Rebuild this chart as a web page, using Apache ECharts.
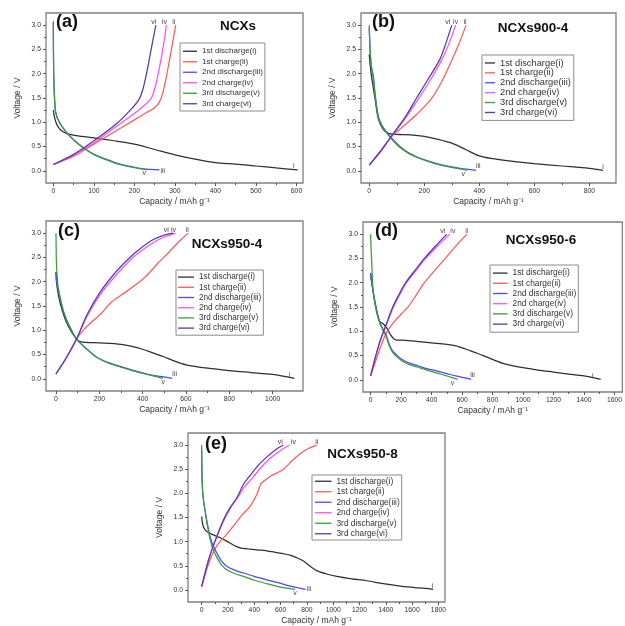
<!DOCTYPE html>
<html>
<head>
<meta charset="utf-8">
<script src="https://cdn.jsdelivr.net/npm/echarts@6/dist/echarts.min.js"></script>
<style>
  html, body { margin: 0; padding: 0; background: #fff; }
  #chart { width: 625px; height: 626px; }
</style>
</head>
<body>
<div id="chart"></div>
<script>
// ---- curve data: capacity (mAh/g) and voltage (V) per cycle, per sample ----
// index 1: 1st discharge, 2: 1st charge, 3: 2nd discharge, 4: 2nd charge, 5: 3rd discharge, 6: 3rd charge

// (a) NCXs
const aCap1 = [0, 3, 8, 15, 25, 40, 70, 100, 150, 200, 250, 300, 350, 400, 450, 500, 550, 603];
const aV1   = [1.25, 1.1, 0.97, 0.87, 0.8, 0.75, 0.71, 0.68, 0.62, 0.55, 0.44, 0.33, 0.24, 0.17, 0.14, 0.1, 0.06, 0.02];
const aCap2 = [0, 50, 100, 150, 200, 230, 250, 262, 270, 278, 286, 294, 302];
const aV2   = [0.13, 0.3, 0.55, 0.8, 1.05, 1.2, 1.3, 1.42, 1.6, 1.9, 2.25, 2.62, 3.0];
const aCap3 = [0, 1, 3, 6, 15, 30, 50, 75, 100, 130, 156, 185, 214, 240, 262];
const aV3   = [3.08, 2.0, 1.5, 1.2, 1.0, 0.82, 0.64, 0.47, 0.34, 0.24, 0.16, 0.1, 0.05, 0.03, 0.02];
const aCap4 = [0, 50, 100, 150, 200, 225, 242, 252, 260, 268, 274, 279];
const aV4   = [0.13, 0.32, 0.58, 0.88, 1.18, 1.35, 1.5, 1.75, 2.05, 2.4, 2.7, 3.0];
const aCap5 = [0, 1, 3, 6, 15, 30, 50, 75, 100, 130, 156, 185, 210, 232];
const aV5   = [3.0, 2.0, 1.5, 1.2, 1.0, 0.82, 0.64, 0.47, 0.34, 0.23, 0.15, 0.09, 0.05, 0.02];
const aCap6 = [0, 50, 100, 156, 190, 210, 220, 230, 238, 246, 253];
const aV6   = [0.13, 0.34, 0.62, 0.97, 1.25, 1.45, 1.65, 2.0, 2.35, 2.7, 3.0];

// (b) NCXs900-4
const bCap1 = [0, 3, 8, 15, 22, 33, 50, 70, 100, 150, 200, 250, 300, 350, 400, 450, 500, 600, 700, 800, 850];
const bV1   = [2.4, 2.2, 1.95, 1.7, 1.45, 1.07, 0.86, 0.77, 0.75, 0.74, 0.71, 0.65, 0.57, 0.44, 0.31, 0.25, 0.21, 0.15, 0.1, 0.05, 0.01];
const bCap2 = [0, 40, 80, 124, 170, 221, 260, 294, 325, 352];
const bV2   = [0.12, 0.38, 0.7, 0.92, 1.15, 1.45, 1.8, 2.2, 2.6, 3.0];
const bCap3 = [0, 3, 8, 15, 21, 33, 45, 63, 85, 112, 140, 172, 210, 245, 290, 330, 388];
const bV3   = [2.95, 2.5, 2.15, 1.95, 1.6, 1.12, 0.95, 0.8, 0.65, 0.5, 0.38, 0.29, 0.21, 0.15, 0.09, 0.05, 0.01];
const bCap4 = [0, 40, 85, 130, 175, 220, 265, 292, 314];
const bV4   = [0.12, 0.4, 0.74, 1.07, 1.45, 1.85, 2.3, 2.65, 3.0];
const bCap5 = [0, 3, 8, 15, 21, 33, 45, 63, 85, 112, 140, 172, 210, 245, 290, 330, 356];
const bV5   = [3.0, 2.5, 2.1, 1.9, 1.55, 1.1, 0.93, 0.78, 0.63, 0.48, 0.37, 0.28, 0.2, 0.14, 0.08, 0.04, 0.01];
const bCap6 = [0, 40, 85, 130, 172, 210, 257, 280, 300];
const bV6   = [0.12, 0.4, 0.75, 1.1, 1.5, 1.85, 2.3, 2.65, 3.0];

// (c) NCXs950-4
const cCap1 = [0, 5, 20, 45, 70, 95, 115, 200, 300, 350, 400, 450, 500, 550, 600, 700, 800, 900, 1000, 1100];
const cV1   = [2.2, 1.9, 1.55, 1.2, 0.98, 0.82, 0.76, 0.74, 0.71, 0.67, 0.61, 0.53, 0.45, 0.36, 0.29, 0.22, 0.17, 0.13, 0.09, 0.01];
const cCap2 = [0, 50, 95, 130, 172, 210, 249, 300, 357, 400, 434, 470, 511, 545, 580, 611];
const cV2   = [0.1, 0.45, 0.82, 1.02, 1.2, 1.35, 1.55, 1.72, 1.9, 2.05, 2.2, 2.38, 2.56, 2.72, 2.88, 3.0];
const cCap3 = [0, 3, 11, 20, 34, 50, 65, 95, 141, 190, 240, 300, 360, 420, 480, 537];
const cV3   = [2.2, 2.0, 1.85, 1.65, 1.4, 1.2, 1.06, 0.82, 0.62, 0.44, 0.34, 0.25, 0.17, 0.1, 0.05, 0.01];
const cCap4 = [0, 50, 95, 145, 210, 290, 355, 420, 470, 520, 552];
const cV4   = [0.1, 0.45, 0.82, 1.3, 1.77, 2.2, 2.5, 2.72, 2.86, 2.95, 3.0];
const cCap5 = [0, 2, 5, 11, 20, 34, 50, 65, 95, 141, 190, 240, 300, 360, 420, 495];
const cV5   = [3.0, 2.4, 2.15, 1.85, 1.65, 1.4, 1.2, 1.06, 0.82, 0.62, 0.44, 0.33, 0.24, 0.16, 0.09, 0.01];
const cCap6 = [0, 50, 95, 141, 203, 280, 341, 400, 450, 500, 541];
const cV6   = [0.1, 0.45, 0.82, 1.3, 1.78, 2.22, 2.5, 2.72, 2.87, 2.96, 3.0];

// (d) NCXs950-6
const dCap1 = [0, 5, 15, 27, 45, 59, 75, 90, 110, 130, 150, 170, 200, 300, 400, 500, 560, 620, 680, 740, 800, 880, 1000, 1100, 1200, 1300, 1400, 1510];
const dV1   = [2.2, 2.05, 1.85, 1.62, 1.35, 1.2, 1.17, 1.13, 1.05, 0.93, 0.85, 0.82, 0.82, 0.79, 0.76, 0.73, 0.7, 0.64, 0.57, 0.5, 0.42, 0.33, 0.25, 0.2, 0.16, 0.12, 0.08, 0.01];
const dCap2 = [0, 40, 80, 110, 155, 200, 250, 300, 353, 420, 490, 560, 632];
const dV2   = [0.08, 0.45, 0.8, 1.0, 1.2, 1.35, 1.52, 1.75, 2.0, 2.25, 2.5, 2.76, 3.0];
const dCap3 = [0, 5, 17, 38, 59, 80, 101, 120, 143, 175, 206, 250, 311, 370, 437, 500, 560, 620, 660];
const dV3   = [2.2, 2.05, 1.82, 1.45, 1.2, 1.05, 0.93, 0.75, 0.6, 0.5, 0.42, 0.35, 0.29, 0.23, 0.18, 0.13, 0.08, 0.04, 0.01];
const dCap4 = [0, 30, 60, 87, 118, 150, 190, 236, 298, 362, 438, 520];
const dV4   = [0.08, 0.45, 0.78, 1.0, 1.25, 1.5, 1.75, 2.0, 2.25, 2.5, 2.75, 3.0];
const dCap5 = [0, 3, 6, 17, 38, 59, 80, 101, 120, 143, 175, 206, 250, 311, 370, 437, 500, 570];
const dV5   = [3.0, 2.7, 2.5, 1.82, 1.41, 1.18, 1.02, 0.9, 0.72, 0.57, 0.47, 0.39, 0.32, 0.26, 0.2, 0.14, 0.08, 0.01];
const dCap6 = [0, 30, 60, 85, 115, 145, 185, 230, 290, 353, 425, 500];
const dV6   = [0.08, 0.45, 0.78, 1.0, 1.25, 1.5, 1.75, 2.0, 2.25, 2.5, 2.75, 3.0];

// (e) NCXs950-8
const eCap1 = [0, 8, 25, 50, 89, 140, 190, 240, 292, 350, 420, 494, 560, 620, 672, 720, 773, 820, 875, 950, 1027, 1140, 1255, 1380, 1509, 1620, 1700, 1760];
const eV1   = [1.52, 1.35, 1.25, 1.19, 1.14, 1.08, 1.01, 0.93, 0.87, 0.85, 0.83, 0.81, 0.78, 0.75, 0.72, 0.67, 0.6, 0.5, 0.4, 0.33, 0.28, 0.23, 0.19, 0.13, 0.08, 0.05, 0.03, 0.01];
const eCap2 = [0, 60, 114, 180, 241, 300, 368, 420, 450, 480, 520, 570, 621, 690, 748, 810, 875];
const eV2   = [0.07, 0.6, 0.91, 1.12, 1.32, 1.53, 1.73, 1.98, 2.2, 2.27, 2.35, 2.42, 2.5, 2.68, 2.82, 2.93, 3.0];
const eCap3 = [0, 3, 10, 25, 45, 63, 85, 114, 150, 190, 250, 317, 400, 494, 580, 672, 740, 790];
const eV3   = [2.9, 2.3, 1.95, 1.66, 1.35, 1.12, 0.93, 0.77, 0.6, 0.49, 0.41, 0.35, 0.28, 0.21, 0.15, 0.08, 0.04, 0.01];
const eCap4 = [0, 50, 100, 165, 220, 270, 330, 380, 440, 510, 580, 667];
const eV4   = [0.07, 0.6, 1.0, 1.42, 1.7, 1.9, 2.15, 2.3, 2.5, 2.7, 2.85, 3.0];
const eCap5 = [0, 3, 10, 25, 45, 63, 85, 114, 150, 190, 250, 317, 400, 494, 580, 660, 710];
const eV5   = [3.0, 2.3, 1.95, 1.65, 1.3, 1.07, 0.85, 0.68, 0.52, 0.42, 0.34, 0.28, 0.2, 0.13, 0.07, 0.03, 0.01];
const eCap6 = [0, 50, 100, 165, 215, 266, 320, 368, 430, 494, 560, 621];
const eV6   = [0.07, 0.6, 1.0, 1.45, 1.7, 1.9, 2.2, 2.37, 2.58, 2.75, 2.9, 3.0];

// ---- labels and ticks ----
const curveNames = ['1st discharge(i)', '1st charge(ii)', '2nd discharge(iii)', '2nd charge(iv)', '3rd discharge(v)', '3rd charge(vi)'];
const romanTags = ['i', 'ii', 'iii', 'iv', 'v', 'vi'];
const panelLetters = ['(a)', '(b)', '(c)', '(d)', '(e)'];
const sampleNames = ['NCXs', 'NCXs900-4', 'NCXs950-4', 'NCXs950-6', 'NCXs950-8'];
const xTicksA = [0, 100, 200, 300, 400, 500, 600];
const xTicksB = [0, 200, 400, 600, 800];
const xTicksC = [0, 200, 400, 600, 800, 1000];
const xTicksD = [0, 200, 400, 600, 800, 1000, 1200, 1400, 1600];
const xTicksE = [0, 200, 400, 600, 800, 1000, 1200, 1400, 1600, 1800];
const voltTicks = [0, 0.5, 1.0, 1.5, 2.0, 2.5, 3.0];
const xAxisTitle = 'Capacity / mAh g\u207B\u00B9';
const yAxisTitle = 'Voltage / V';

// ---- styling ----
const FONT = '"Liberation Sans", Arial, Helvetica, sans-serif';
const curveColors = ['#2f2f2f', '#ff5a5a', '#4a4aff', '#ff4dff', '#3c9c3c', '#4b40a8'];
const frameColor = '#808080';

// layout of each panel: plot box, axis span, tag placement, legend box, headings
const panels = [
  {
    box: { left: 46, top: 13, width: 257, height: 170 }, xMin: -18, xMax: 616, xTicks: xTicksA,
    curves: [[aCap1, aV1], [aCap2, aV2], [aCap3, aV3], [aCap4, aV4], [aCap5, aV5], [aCap6, aV6]],
    tags: [['top', -4, 1], ['top', -2, 1.5], ['right', 0, 1], ['top', -2, 1.5], ['bottom', -3, -1], ['top', -2, 1.5]],
    legend: { left: 180, top: 43, padding: [3, 2, 2, 3], itemWidth: 14, fontSize: 8, lineHeight: 10.5 },
    letter: [56, 22], title: [238, 26]
  },
  {
    box: { left: 361, top: 13, width: 255, height: 170 }, xMin: -30, xMax: 897, xTicks: xTicksB,
    curves: [[bCap1, bV1], [bCap2, bV2], [bCap3, bV3], [bCap4, bV4], [bCap5, bV5], [bCap6, bV6]],
    tags: [['top', 0, 1], ['top', -1, 1.5], ['right', -1, -4], ['top', 0, 1.5], ['bottom', -4, -1], ['top', -4, 1.5]],
    legend: { left: 482, top: 55, padding: [3, 3, 3, 3], itemWidth: 10, fontSize: 9.3, lineHeight: 9.9 },
    letter: [372, 22.5], title: [533, 28]
  },
  {
    box: { left: 46, top: 221, width: 257, height: 170 }, xMin: -46, xMax: 1140, xTicks: xTicksC,
    curves: [[cCap1, cV1], [cCap2, cV2], [cCap3, cV3], [cCap4, cV4], [cCap5, cV5], [cCap6, cV6]],
    tags: [['top', -5, 1], ['top', -1, 1.5], ['right', -1, -4], ['top', -2, 1.5], ['bottom', 0, -1], ['top', -7, 1.5]],
    legend: { left: 176, top: 270, padding: [2, 2, 2, 2], itemWidth: 16, fontSize: 8.2, lineHeight: 10.2 },
    letter: [58, 231.5], title: [227, 244]
  },
  {
    box: { left: 363, top: 222, width: 270, height: 170 }, xMin: -50, xMax: 1652, xTicks: xTicksD,
    curves: [[dCap1, dV1], [dCap2, dV2], [dCap3, dV3], [dCap4, dV4], [dCap5, dV5], [dCap6, dV6]],
    tags: [['top', -8, 1], ['top', 0, 1.5], ['right', -2, -4], ['top', 3, 1.5], ['bottom', -5, -1], ['top', -4, 1.5]],
    legend: { left: 490, top: 265, padding: [3, 2, 3, 3], itemWidth: 14.5, fontSize: 8.4, lineHeight: 10.2 },
    letter: [375, 231.5], title: [541, 240]
  },
  {
    box: { left: 188, top: 433, width: 257, height: 170 }, xMin: -104, xMax: 1850, xTicks: xTicksE,
    curves: [[eCap1, eV1], [eCap2, eV2], [eCap3, eV3], [eCap4, eV4], [eCap5, eV5], [eCap6, eV6]],
    tags: [['top', -1, 1], ['top', 0, 1.5], ['right', 0, 0], ['top', 4, 1.5], ['bottom', 0, -1], ['top', -3, 1.5]],
    legend: { left: 312, top: 475, padding: [1, 2, 1, 3], itemWidth: 16.5, fontSize: 8.3, lineHeight: 10.5 },
    letter: [205, 444], title: [362.5, 454]
  }
];

const Y_MIN = -0.25, Y_MAX = 3.25;

function midpoints(ticks) {
  const out = [];
  for (let i = 0; i < ticks.length - 1; i++) out.push((ticks[i] + ticks[i + 1]) / 2);
  return out;
}

const grid = [], xAxis = [], yAxis = [], series = [], legend = [], graphic = [];
const tickLine = { color: '#555', width: 1 };
const hiddenLine = { show: false, onZero: false };

panels.forEach((p, pi) => {
  grid.push(Object.assign({ show: true, borderColor: frameColor, borderWidth: 1.3, containLabel: false }, p.box));

  // main x axis: major ticks + labels + title
  xAxis.push({
    type: 'value', gridIndex: pi, min: p.xMin, max: p.xMax, position: 'bottom',
    axisLine: hiddenLine, splitLine: { show: false },
    axisTick: { show: true, inside: false, length: 3, customValues: p.xTicks, lineStyle: tickLine },
    axisLabel: { show: true, customValues: p.xTicks, margin: 5, fontSize: 6.8, color: '#333', fontFamily: FONT, formatter: v => String(v) },
    name: xAxisTitle, nameLocation: 'middle', nameGap: 14,
    nameTextStyle: { fontSize: 8.5, color: '#333', fontFamily: FONT }
  });
  // minor x ticks
  xAxis.push({
    type: 'value', gridIndex: pi, min: p.xMin, max: p.xMax, position: 'bottom', offset: 0,
    axisLine: hiddenLine, splitLine: { show: false }, axisLabel: { show: false },
    axisTick: { show: true, inside: false, length: 2, customValues: midpoints(p.xTicks), lineStyle: tickLine }
  });
  // main y axis
  yAxis.push({
    type: 'value', gridIndex: pi, min: Y_MIN, max: Y_MAX, position: 'left',
    axisLine: hiddenLine, splitLine: { show: false },
    axisTick: { show: true, inside: false, length: 3, customValues: voltTicks, lineStyle: tickLine },
    axisLabel: { show: true, customValues: voltTicks, margin: 5, fontSize: 6.8, color: '#333', fontFamily: FONT, formatter: v => v.toFixed(1) },
    name: yAxisTitle, nameLocation: 'middle', nameGap: 24,
    nameTextStyle: { fontSize: 8.5, color: '#333', fontFamily: FONT }
  });
  // minor y ticks
  yAxis.push({
    type: 'value', gridIndex: pi, min: Y_MIN, max: Y_MAX, position: 'left', offset: 0,
    axisLine: hiddenLine, splitLine: { show: false }, axisLabel: { show: false },
    axisTick: { show: true, inside: false, length: 2, customValues: midpoints(voltTicks), lineStyle: tickLine }
  });

  p.curves.forEach(([cap, volt], k) => {
    const tag = p.tags[k];
    const last = cap.length - 1;
    const data = cap.map((c, j) => {
      if (j !== last) return [c, volt[j]];
      return {
        value: [c, volt[j]], symbol: 'circle', symbolSize: 0,
        label: {
          show: true, formatter: romanTags[k], position: tag[0], distance: 1,
          offset: [tag[1], tag[2]], fontSize: 7, color: '#444', fontFamily: FONT
        }
      };
    });
    series.push({
      type: 'line', name: curveNames[k], xAxisIndex: pi * 2, yAxisIndex: pi * 2,
      data: data, symbol: 'none', showSymbol: true, smooth: 0.3,
      lineStyle: { color: curveColors[k], width: 1.25 }, itemStyle: { color: curveColors[k] },
      silent: true, animation: false, emphasis: { disabled: true }, z: 2 + k
    });
  });

  const L = p.legend;
  legend.push({
    left: L.left, top: L.top, orient: 'vertical', data: curveNames, icon: 'rect',
    itemWidth: L.itemWidth, itemHeight: 1.3, itemGap: 0, padding: L.padding,
    borderColor: '#8c8c8c', borderWidth: 1, borderRadius: 0, selectedMode: false,
    itemStyle: { borderWidth: 0 },
    textStyle: { fontFamily: FONT, fontSize: L.fontSize, lineHeight: L.lineHeight, color: '#333' }
  });

  graphic.push({
    type: 'text', x: p.letter[0], y: p.letter[1], silent: true,
    style: { text: panelLetters[pi], font: 'bold 18px ' + FONT, fill: '#111', align: 'left', verticalAlign: 'middle' }
  });
  graphic.push({
    type: 'text', x: p.title[0], y: p.title[1], silent: true,
    style: { text: sampleNames[pi], font: 'bold 13.5px ' + FONT, fill: '#111', align: 'center', verticalAlign: 'middle' }
  });
});

const chart = echarts.init(document.getElementById('chart'), null, { renderer: 'canvas' });
chart.setOption({
  backgroundColor: '#ffffff',
  animation: false,
  grid, xAxis, yAxis, series, legend, graphic
});
</script>
</body>
</html>
